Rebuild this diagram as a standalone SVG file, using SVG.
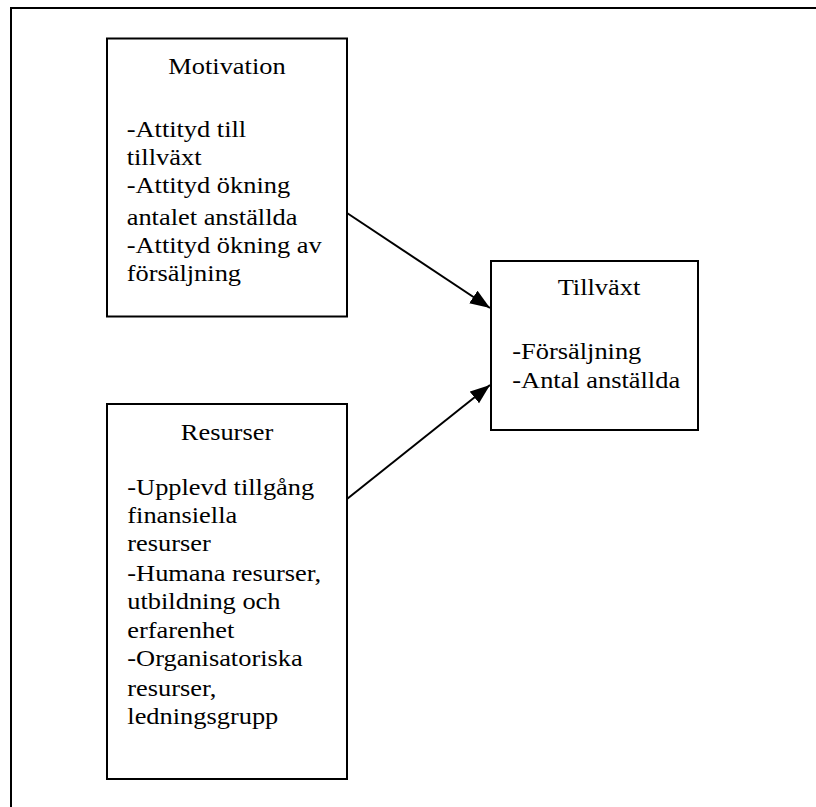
<svg xmlns="http://www.w3.org/2000/svg" width="816" height="807" viewBox="0 0 816 807">
<style>
.box{fill:#fff;stroke:#000;stroke-width:2}
.t{font-family:"Liberation Serif","Times New Roman",serif;font-size:24px;fill:#000}
.c{text-anchor:middle}
.conn{stroke:#000;stroke-width:2;fill:none}
</style>
<defs>
<marker id="ah" markerUnits="userSpaceOnUse" markerWidth="21" markerHeight="16" refX="20" refY="8" orient="auto">
<path d="M0,0.5 L20,8 L0,15.5 z" fill="#000"/>
</marker>
</defs>
<rect width="816" height="807" fill="#fff"/>
<path d="M11 810 V8 H820" fill="none" stroke="#000" stroke-width="2"/>
<g id="connectors">
<line class="conn" x1="347" y1="213" x2="490" y2="308" marker-end="url(#ah)"/>
<line class="conn" x1="347" y1="499" x2="490" y2="385" marker-end="url(#ah)"/>
</g>
<g id="motivation">
<rect class="box" x="107" y="38.5" width="240" height="278"/>
<g transform="translate(227 0) scale(1.1 1)"><text class="t c" x="0" y="74">Motivation</text></g>
<g transform="translate(126.7 0) scale(1.1 1)">
<text class="t" x="0" y="137">-Attityd till</text>
<text class="t" x="0" y="165">tillväxt</text>
<text class="t" x="0" y="193">-Attityd ökning</text>
<text class="t" x="0" y="225">antalet anställda</text>
<text class="t" x="0" y="253">-Attityd ökning av</text>
<text class="t" x="0" y="281">försäljning</text>
</g>
</g>
<g id="tillvaxt">
<rect class="box" x="491" y="261" width="207" height="169"/>
<g transform="translate(599 0) scale(1.1 1)"><text class="t c" x="0" y="295">Tillväxt</text></g>
<g transform="translate(512.3 0) scale(1.1 1)">
<text class="t" x="0" y="359">-Försäljning</text>
<text class="t" x="0" y="388">-Antal anställda</text>
</g>
</g>
<g id="resurser">
<rect class="box" x="107" y="404" width="240" height="375"/>
<g transform="translate(227 0) scale(1.1 1)"><text class="t c" x="0" y="440">Resurser</text></g>
<g transform="translate(127.3 0) scale(1.1 1)">
<text class="t" x="0" y="495">-Upplevd tillgång</text>
<text class="t" x="0" y="523">finansiella</text>
<text class="t" x="0" y="551">resurser</text>
<text class="t" x="0" y="581">-Humana resurser,</text>
<text class="t" x="0" y="609">utbildning och</text>
<text class="t" x="0" y="638">erfarenhet</text>
<text class="t" x="0" y="666">-Organisatoriska</text>
<text class="t" x="0" y="696">resurser,</text>
<text class="t" x="0" y="724">ledningsgrupp</text>
</g>
</g>
</svg>
